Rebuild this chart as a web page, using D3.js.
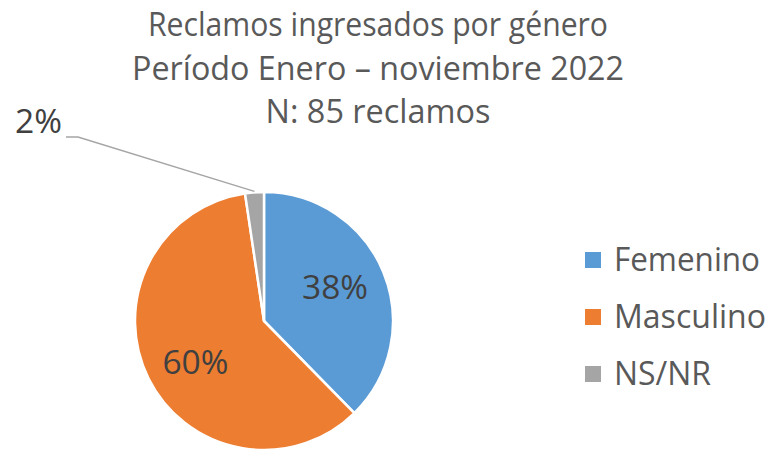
<!DOCTYPE html>
<html>
<head>
<meta charset="utf-8">
<script src="https://cdn.jsdelivr.net/npm/d3@7"></script>
<style>
  html, body { margin: 0; padding: 0; background: #ffffff; }
  svg { display: block; }
  text { font-family: "Open Sans", "Noto Sans", sans-serif; }
</style>
</head>
<body>
<svg id="chart" width="772" height="452"></svg>
<script>
const titleLines = ["Reclamos ingresados por género", "Período Enero – noviembre 2022", "N: 85 reclamos"];
const categories = ["Femenino", "Masculino", "NS/NR"];
const counts = [32, 51, 2];
const labels = ["38%", "60%", "2%"];
const colors = ["#5B9BD5", "#ED7D31", "#A5A5A5"];

const svg = d3.select("#chart");
const W = 772, H = 452;
svg.append("rect").attr("width", W).attr("height", H).attr("fill", "#fff");

// Title
const titleBaselines = [36, 80, 123];
const titleWidths = [460, 492, 225];
svg.append("g").selectAll("text").data(titleLines).join("text")
  .attr("x", 378)
  .attr("y", (d, i) => titleBaselines[i])
  .attr("text-anchor", "middle")
  .attr("font-size", 32)
  .attr("fill", "#595959")
  .attr("textLength", (d, i) => titleWidths[i])
  .attr("lengthAdjust", "spacingAndGlyphs")
  .text(d => d);

// Pie
const cx = 264, cy = 321, R = 129;
const data = categories.map((c, i) => ({ cat: c, value: counts[i], label: labels[i], color: colors[i] }));
const pie = d3.pie().value(d => d.value).sort(null);
const arcs = pie(data);
const arc = d3.arc().innerRadius(0).outerRadius(R);
const g = svg.append("g").attr("transform", `translate(${cx},${cy})`);

g.selectAll("path").data(arcs).join("path")
  .attr("d", arc)
  .attr("fill", d => d.data.color)
  .attr("stroke", "#ffffff")
  .attr("stroke-width", 2.5)
  .attr("stroke-linejoin", "round");

// Inside labels
const labelArc = d3.arc().innerRadius(80).outerRadius(80);
const insideOffsets = [[-3, -4], [3, 5]];
g.selectAll("text.inside").data(arcs.slice(0, 2)).join("text")
  .attr("class", "inside")
  .attr("x", (d, i) => labelArc.centroid(d)[0] + insideOffsets[i][0])
  .attr("y", (d, i) => labelArc.centroid(d)[1] + insideOffsets[i][1])
  .attr("text-anchor", "middle")
  .attr("dominant-baseline", "central")
  .attr("font-size", 32)
  .attr("fill", "#404040")
  .attr("textLength", 66)
  .attr("lengthAdjust", "spacingAndGlyphs")
  .text(d => d.data.label);

// Outside label for NS/NR with leader line
const small = arcs[2];
const edgeArc = d3.arc().innerRadius(R + 1).outerRadius(R + 1);
const p0 = edgeArc.centroid(small);
const elbow = [78 - cx, 137 - cy];
const end = [66 - cx, 137 - cy];
g.append("polyline")
  .attr("points", [p0, elbow, end].map(p => p.join(",")).join(" "))
  .attr("fill", "none")
  .attr("stroke", "#A5A5A5")
  .attr("stroke-width", 1.5);
g.append("text")
  .attr("x", 62 - cx)
  .attr("y", 133 - cy)
  .attr("text-anchor", "end")
  .attr("font-size", 32)
  .attr("fill", "#404040")
  .attr("textLength", 47)
  .attr("lengthAdjust", "spacingAndGlyphs")
  .text(small.data.label);

// Legend
const legendBaselines = [271, 328, 385];
const legendWidths = [146, 152, 97];
const leg = svg.append("g");
const items = leg.selectAll("g").data(data).join("g")
  .attr("transform", (d, i) => `translate(0, ${legendBaselines[i]})`);
items.append("rect")
  .attr("x", 585).attr("y", -19)
  .attr("width", 16).attr("height", 16)
  .attr("fill", d => d.color);
items.append("text")
  .attr("x", 614).attr("y", 0)
  .attr("font-size", 32)
  .attr("fill", "#595959")
  .attr("textLength", (d, i) => legendWidths[i])
  .attr("lengthAdjust", "spacingAndGlyphs")
  .text(d => d.cat);
</script>
</body>
</html>
